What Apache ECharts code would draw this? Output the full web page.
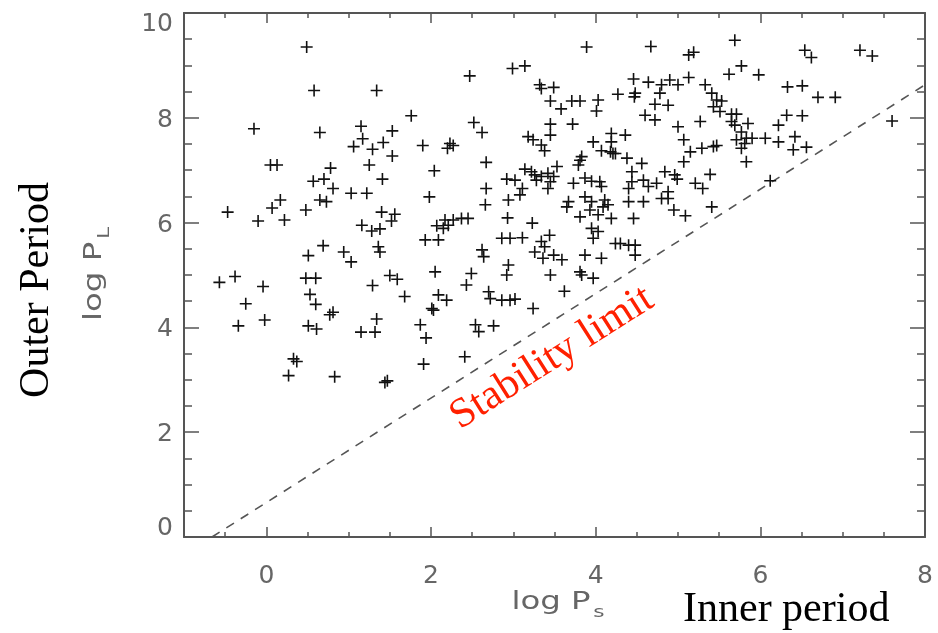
<!DOCTYPE html>
<html><head><meta charset="utf-8">
<script src="https://cdn.jsdelivr.net/npm/echarts@6/dist/echarts.min.js"></script>
<style>html,body{margin:0;padding:0;background:#fff}#c{width:938px;height:633px}</style>
</head><body><div id="c"></div>
<script>
// log P_S (inner period) values
const ptX = [
0.49,0.58,1.34,1.76,-0.15,0.65,1.15,1.17,1.53,1.06,1.29,1.42,1.90,1.53,2.04,1.25,0.05,0.13,0.78,0.57,0.70,0.81,1.41,1.03,1.22,1.98,0.17,0.65,0.73,
-0.47,0.07,-0.10,0.22,0.48,1.40,1.56,1.52,1.16,1.28,1.38,2.07,1.93,2.09,0.69,0.51,0.94,1.03,1.36,1.38,-0.57,-0.38,-0.04,0.48,0.60,0.53,0.60,-0.25,-0.34,-0.02,0.77,0.81,0.51,0.61,1.29,1.50,1.59,1.68,1.34,1.15,1.32,2.05,2.09,2.01,2.03,1.87,1.94,0.33,0.37,0.27,0.83,1.47,1.44,1.91,
3.89,4.67,2.99,3.14,2.47,3.32,3.34,3.49,3.45,3.58,3.71,3.81,4.03,4.01,4.46,4.64,4.27,4.48,4.47,4.80,4.90,4.78,4.72,4.88,4.60,4.72,2.52,2.62,3.45,3.45,3.72,2.23,2.27,2.20,3.18,3.24,3.34,3.38,3.97,4.07,4.19,4.36,4.19,4.24,3.81,3.83,3.79,2.67,2.67,2.66,2.94,3.14,3.22,2.92,3.02,3.11,3.08,3.26,3.28,3.34,3.42,3.45,3.53,3.49,3.42,3.73,3.87,3.95,4.05,4.07,3.67,3.65,3.87,3.95,4.11,4.40,4.44,4.56,4.58,4.64,4.38,4.44,4.40,4.58,4.74,4.84,4.88,4.80,4.88,4.09,4.15,4.21,4.18,
5.69,5.13,5.19,6.54,6.62,7.21,7.36,5.77,5.62,5.98,6.33,6.51,6.70,6.91,7.60,5.00,5.13,5.33,5.41,5.47,5.53,5.43,5.51,5.65,5.71,5.65,5.69,5.85,5.27,5.00,5.77,5.71,5.83,5.90,5.77,5.81,6.06,5.83,6.22,6.32,6.51,6.22,6.42,6.40,6.56,5.07,5.15,5.29,5.43,5.47,5.07,4.96,4.99,5.21,5.30,5.39,6.12,5.41,4.95,5.09,
2.17,2.21,2.15,2.27,2.37,2.45,2.93,3.23,2.86,2.96,3.11,2.62,2.64,3.34,3.38,3.26,3.36,3.49,3.59,3.44,3.81,3.93,4.03,4.19,4.46,3.95,4.03,3.97,4.24,4.30,4.40,4.48,4.48,3.87,4.07,3.45,3.81,3.83,3.97,3.62,2.49,2.43,2.94,2.92,2.70,2.72,2.86,2.96,3.02,2.19,3.24,2.54,2.58,2.76,2.41
];
// log P_L (outer period) values
const ptY = [
9.35,8.52,8.52,8.04,7.79,7.72,7.84,7.60,7.75,7.45,7.40,7.53,7.47,7.27,6.99,7.10,7.10,7.10,7.04,6.79,6.83,6.65,6.83,6.56,6.56,6.49,6.43,6.43,6.40,
6.20,6.28,6.03,6.05,6.24,6.20,6.16,6.03,5.95,5.84,5.88,5.94,5.67,5.67,5.56,5.37,5.44,5.25,5.54,5.44,4.86,4.97,4.78,4.94,4.94,4.63,4.44,4.45,4.03,4.14,4.24,4.29,4.03,3.97,4.80,4.99,4.92,4.59,4.16,3.91,3.91,5.06,4.62,4.36,4.33,4.05,3.80,3.40,3.35,3.08,3.06,2.98,2.95,3.30,
9.35,9.36,8.94,8.99,8.80,8.63,8.56,8.58,8.32,8.17,8.32,8.32,8.34,8.13,8.74,8.68,8.45,8.47,8.40,8.63,8.72,8.47,8.26,8.24,8.05,7.96,7.91,7.72,7.88,7.67,7.88,7.51,7.47,7.42,7.64,7.58,7.48,7.37,7.54,7.37,7.70,7.67,7.54,7.32,7.19,7.26,7.10,7.15,6.65,6.34,6.43,7.02,6.97,6.83,6.81,6.65,6.53,6.91,6.81,6.88,6.94,6.78,7.07,6.88,6.65,6.75,6.85,6.79,6.78,6.69,6.40,6.30,6.49,6.40,6.43,6.65,6.78,7.13,6.81,6.69,7.23,6.97,6.40,6.40,6.75,6.97,6.59,6.46,6.46,6.30,6.34,7.32,7.35,
9.48,9.20,9.25,9.29,9.15,9.29,9.18,8.99,8.83,8.82,8.59,8.61,8.39,8.39,7.94,8.63,8.77,8.63,8.47,8.34,8.32,8.21,8.12,8.07,8.07,7.93,7.86,7.89,7.93,7.83,7.73,7.58,7.61,7.61,7.42,7.51,7.61,7.16,7.86,8.05,8.04,7.54,7.64,7.39,7.44,7.58,7.35,7.42,7.45,7.47,7.16,6.91,6.83,6.75,6.65,6.92,6.80,6.30,6.24,6.13,
6.05,5.95,5.89,6.05,6.08,6.08,6.09,5.99,5.70,5.70,5.71,5.48,5.35,5.64,5.54,5.44,5.32,5.38,5.29,5.76,6.11,6.24,6.15,6.08,6.08,5.89,5.83,5.70,5.60,5.60,5.57,5.57,5.38,5.38,5.32,5.00,5.06,5.00,4.94,4.69,5.03,4.81,5.19,5.00,4.68,4.55,4.52,4.52,4.54,4.52,4.36,4.05,3.92,4.03,3.44
];
// stability limit line end points
const limitX = [-0.66, 8];
const limitY = [0, 8.63];
// axis ticks
const xMajor = [0, 2, 4, 6, 8];
const xMinor = [-0.5, 0.5, 1, 1.5, 2.5, 3, 3.5, 4.5, 5, 5.5, 6.5, 7, 7.5];
const yMajor = [0, 2, 4, 6, 8, 10];
const yMinor = [0.5, 1, 1.5, 2.5, 3, 3.5, 4.5, 5, 5.5, 6.5, 7, 7.5, 8.5, 9, 9.5];

const AX = '#555';
const LBL = '#666';
const SANS = 'DejaVu Sans';
const SERIF = 'Liberation Serif';

function xAx(pos, ticks, len, showLine, labels) {
  return {
    type: 'value', position: pos, min: -1, max: 8,
    axisLine: { show: showLine, onZero: false, lineStyle: { color: AX, width: 2 } },
    axisTick: { show: true, inside: true, length: len, customValues: ticks, lineStyle: { color: AX, width: 1.5 } },
    axisLabel: labels ? { show: true, customValues: xMajor, margin: 27, fontSize: 25, color: LBL, fontFamily: SANS } : { show: false },
    splitLine: { show: false }
  };
}
function yAx(pos, ticks, len, showLine, labels) {
  return {
    type: 'value', position: pos, min: 0, max: 10,
    axisLine: { show: showLine, onZero: false, lineStyle: { color: AX, width: 2 } },
    axisTick: { show: true, inside: true, length: len, customValues: ticks, lineStyle: { color: AX, width: 1.5 } },
    axisLabel: labels ? {
      show: true, customValues: yMajor, margin: 11, fontSize: 25, color: LBL, fontFamily: SANS,
      formatter: v => v === 10 ? '{t|10}' : (v === 0 ? '{z|0}' : '{n|' + v + '}'),
      rich: {
        t: { fontSize: 25, color: LBL, fontFamily: SANS, padding: [22, 0, 0, 0] },
        z: { fontSize: 25, color: LBL, fontFamily: SANS, padding: [0, 0, 18, 0] },
        n: { fontSize: 25, color: LBL, fontFamily: SANS, padding: [5, 0, 0, 0] }
      }
    } : { show: false },
    splitLine: { show: false }
  };
}

const pts = ptX.map((x, i) => [x, ptY[i]]);
const limitPts = limitX.map((x, i) => [x, limitY[i]]);

const plus = 'path://M0,5.2H12V6.8H0Z M5.2,0H6.8V12H5.2Z';

const subRich = {
  a: { fontSize: 24, fontFamily: SANS, fill: LBL, color: LBL, verticalAlign: 'top', lineHeight: 30 },
  b: { fontSize: 16, fontFamily: SANS, fill: LBL, color: LBL, verticalAlign: 'bottom', lineHeight: 30, padding: [12, 0, 0, 2] }
};

const chart = echarts.init(document.getElementById('c'), null, { renderer: 'canvas' });
chart.setOption({
  backgroundColor: '#fff',
  animation: false,
  grid: { left: 184, top: 13, width: 741, height: 524, containLabel: false, outerBoundsMode: 'none' },
  xAxis: [
    xAx('bottom', xMajor, 10, true, true),
    xAx('bottom', xMinor, 5, false, false),
    xAx('top', xMajor, 10, true, false),
    xAx('top', xMinor, 5, false, false)
  ],
  yAxis: [
    yAx('left', yMajor, 15, true, true),
    yAx('left', yMinor, 8, false, false),
    yAx('right', yMajor, 15, true, false),
    yAx('right', yMinor, 8, false, false)
  ],
  series: [
    {
      type: 'line', xAxisIndex: 0, yAxisIndex: 0, data: limitPts, symbol: 'none',
      lineStyle: { color: '#555', width: 1.6, type: [9, 8] }, silent: true, z: 1
    },
    {
      type: 'scatter', xAxisIndex: 0, yAxisIndex: 0, data: pts,
      symbol: plus, symbolSize: 12, itemStyle: { color: '#111', opacity: 1 }, z: 2
    }
  ],
  graphic: [
    { type: 'text', x: 37, y: 290, rotation: Math.PI / 2,
      style: { text: 'Outer Period', font: '42px "' + SERIF + '"', fill: '#000', align: 'center', verticalAlign: 'middle' } },
    { type: 'text', x: 98, y: 274, rotation: Math.PI / 2, scaleX: 1.35,
      style: { text: '{a|log P}{b|L}', align: 'center', verticalAlign: 'middle', rich: subRich } },
    { type: 'text', x: 558, y: 606, scaleX: 1.35,
      style: { text: '{a|log P}{b|s}', align: 'center', verticalAlign: 'middle', rich: subRich } },
    { type: 'text', x: 683, y: 610,
      style: { text: 'Inner period', font: '42px "' + SERIF + '"', fill: '#000', align: 'left', verticalAlign: 'middle' } },
    { type: 'text', x: 552, y: 358, rotation: 0.567,
      style: { text: 'Stability limit', font: '42px "' + SERIF + '"', fill: '#ff2000', align: 'center', verticalAlign: 'middle' } }
  ]
});
</script>
</body></html>
